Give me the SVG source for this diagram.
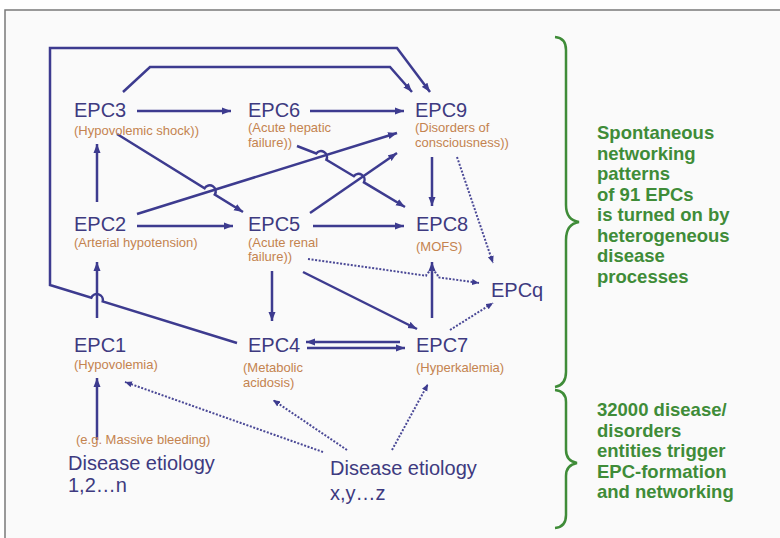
<svg xmlns="http://www.w3.org/2000/svg" width="780" height="538" viewBox="0 0 780 538">
<defs>
<marker id="ah" markerUnits="userSpaceOnUse" markerWidth="10" markerHeight="8" refX="9" refY="4" orient="auto">
<path d="M0,0.5 L9,4 L0,7.5 z" fill="#3d3b8f"/>
</marker>
<marker id="ad" markerUnits="userSpaceOnUse" markerWidth="8" markerHeight="7" refX="7" refY="3.5" orient="auto">
<path d="M0,0.5 L7,3.5 L0,6.5 z" fill="#3d3b8f"/>
</marker>
<style>
.ln{fill:none;stroke:#3d3b8f;stroke-width:2.5;marker-end:url(#ah)}
.dt{fill:none;stroke:#4a4896;stroke-width:2;stroke-dasharray:2 1.6;marker-end:url(#ad)}
.epc{font-family:"Liberation Sans",Arial,sans-serif;font-size:20px;fill:#3e3a80}
.sub{font-family:"Liberation Sans",Arial,sans-serif;font-size:13px;fill:#c4834f}
.eti{font-family:"Liberation Sans",Arial,sans-serif;font-size:20px;fill:#3e3a80}
.gr{font-family:"Liberation Sans",Arial,sans-serif;font-size:18.5px;font-weight:bold;fill:#3f8c38}
.br{fill:none;stroke:#3f8c38;stroke-width:2.5}
</style>
</defs>
<rect x="0" y="0" width="780" height="538" fill="#ffffff"/>
<rect x="5" y="10" width="775" height="528" fill="#fafafa"/>
<path d="M5,538 L5,10 L780,10" fill="none" stroke="#7a7a7a" stroke-width="1.5"/>

<g id="connectors">
<path class="ln" d="M137,111 L231,111"/>
<path class="ln" d="M310,111 L404,111"/>
<path class="ln" d="M97,202 L97,144"/>
<path class="ln" d="M117,134 L204.6,188.2 A6,6 0 0 1 214.8,194.6 L243,212"/>
<path class="ln" d="M137,214 L397,133"/>
<path class="ln" d="M297,146 L316.2,153.5 A6,6 0 0 1 326.4,159.7 L353.8,176.2 A6,6 0 0 1 364,182.4 L405,207"/>
<path class="ln" d="M310,213 L397,153"/>
<path class="ln" d="M432,157 L432,206"/>
<path class="ln" d="M137,226 L233,226"/>
<path class="ln" d="M313,226 L404,226"/>
<path class="ln" d="M97,318 L97,262"/>
<path class="ln" d="M272,271 L272,321"/>
<path class="ln" d="M303,272 L417,329"/>
<path class="ln" d="M432,318 L432,262"/>
<path class="ln" d="M400,342 L306,342"/>
<path class="ln" d="M307,348 L405,348"/>
<path class="ln" d="M237,343 L102.7,301.4 A6,6 0 0 0 91.3,297.8 L50,285 L50,48 L397,48 L430,92"/>
<path class="ln" d="M123,92 L150,67 L390,67 L412,92"/>
<path class="ln" d="M97,440 L97,378"/>
<path class="dt" d="M308,259 L426.1,275.7 A6,6 0 0 1 437.9,277.3 L479,283"/>
<path class="dt" d="M457,157 L493,263"/>
<path class="dt" d="M450,330 L493,303"/>
<path class="dt" d="M323,452 L125,382"/>
<path class="dt" d="M347,450 L273,400"/>
<path class="dt" d="M392,450 L428,384"/>
</g>

<g id="epc3"><text class="epc" x="74" y="117">EPC3</text><text class="sub" x="74" y="135">(Hypovolemic shock))</text></g>
<g id="epc6"><text class="epc" x="248" y="117">EPC6</text><text class="sub" x="248" y="132">(Acute hepatic</text><text class="sub" x="248" y="147">failure))</text></g>
<g id="epc9"><text class="epc" x="415" y="117">EPC9</text><text class="sub" x="415" y="132">(Disorders of</text><text class="sub" x="415" y="147">consciousness))</text></g>
<g id="epc2"><text class="epc" x="74" y="231">EPC2</text><text class="sub" x="74" y="247">(Arterial hypotension)</text></g>
<g id="epc5"><text class="epc" x="248" y="231">EPC5</text><text class="sub" x="248" y="247">(Acute renal</text><text class="sub" x="248" y="261">failure))</text></g>
<g id="epc8"><text class="epc" x="416" y="231">EPC8</text><text class="sub" x="416" y="251">(MOFS)</text></g>
<g id="epcq"><text class="epc" x="491" y="297">EPCq</text></g>
<g id="epc1"><text class="epc" x="74" y="352">EPC1</text><text class="sub" x="74" y="369">(Hypovolemia)</text></g>
<g id="epc4"><text class="epc" x="248" y="352">EPC4</text><text class="sub" x="243" y="372">(Metabolic</text><text class="sub" x="243" y="387">acidosis)</text></g>
<g id="epc7"><text class="epc" x="416" y="352">EPC7</text><text class="sub" x="416" y="372">(Hyperkalemia)</text></g>
<g id="etiology1"><text class="sub" x="76" y="444">(e.g. Massive bleeding)</text><text class="eti" x="68" y="470">Disease etiology</text><text class="eti" x="68" y="492">1,2…n</text></g>
<g id="etiology2"><text class="eti" x="330" y="475">Disease etiology</text><text class="eti" x="330" y="500">x,y…z</text></g>

<g id="brace1">
<path class="br" d="M555,37 Q566,38 566,50 L566,205 Q566,220 579,222 Q566,224 566,240 L566,372 Q566,385 555,387"/>
<text class="gr" x="597" y="139">Spontaneous</text>
<text class="gr" x="597" y="160">networking</text>
<text class="gr" x="597" y="180">patterns</text>
<text class="gr" x="597" y="201">of 91 EPCs</text>
<text class="gr" x="597" y="221">is turned on by</text>
<text class="gr" x="597" y="242">heterogeneous</text>
<text class="gr" x="597" y="262">disease</text>
<text class="gr" x="597" y="283">processes</text>
</g>
<g id="brace2">
<path class="br" d="M555,390 Q566,391 566,402 L566,450 Q566,461 577,463 Q566,465 566,476 L566,515 Q566,527 555,528"/>
<text class="gr" x="597" y="416">32000 disease/</text>
<text class="gr" x="597" y="437">disorders</text>
<text class="gr" x="597" y="457">entities trigger</text>
<text class="gr" x="597" y="478">EPC-formation</text>
<text class="gr" x="597" y="498">and networking</text>
</g>
</svg>
